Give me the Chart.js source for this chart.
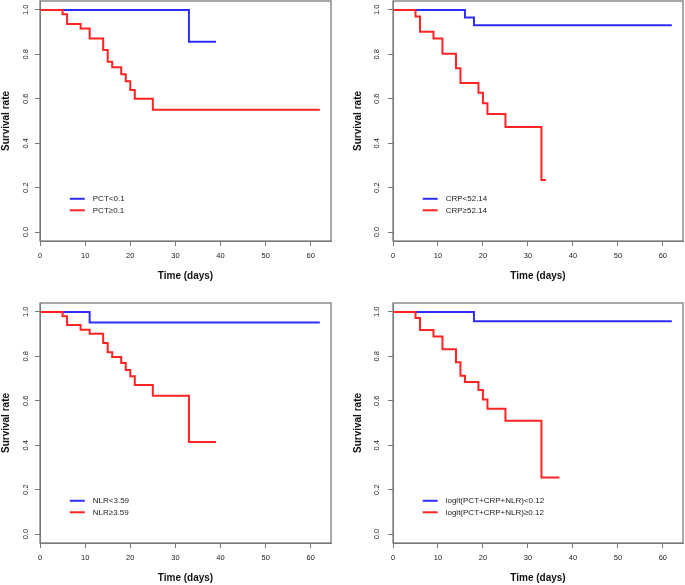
<!DOCTYPE html>
<html>
<head>
<meta charset="utf-8">
<script src="https://cdn.jsdelivr.net/npm/chart.js@4.4.0/dist/chart.umd.min.js"></script>
<style>
  body { margin: 0; background: #fff; }
  #wrap { position: relative; width: 685px; height: 585px; }
  canvas { position: absolute; }
</style>
</head>
<body>
<div id="wrap">
  <canvas id="c1" width="342" height="283" style="left:0;top:0"></canvas>
  <canvas id="c2" width="343" height="283" style="left:342px;top:0"></canvas>
  <canvas id="c3" width="342" height="283" style="left:0;top:302px"></canvas>
  <canvas id="c4" width="343" height="283" style="left:342px;top:302px"></canvas>
</div>
<script>
// tick labels
const xTickValues = [0, 10, 20, 30, 40, 50, 60];
const yTickValues = [0, 0.2, 0.4, 0.6, 0.8, 1.0];

// PCT
const pctLowTime = [0, 33, 39];
const pctLowSurv = [1, 0.857, 0.857];
const pctHighTime = [0, 5, 6, 9, 11, 14, 15, 16, 18, 19, 20, 21, 25, 62];
const pctHighSurv = [1, 0.98, 0.937, 0.916, 0.871, 0.82, 0.767, 0.742, 0.71, 0.679, 0.64, 0.60, 0.551, 0.551];

// CRP
const crpLowTime = [0, 16, 18, 62];
const crpLowSurv = [1, 0.966, 0.931, 0.931];
const crpHighTime = [0, 5, 6, 9, 11, 14, 15, 19, 20, 21, 25, 33, 34];
const crpHighSurv = [1, 0.97, 0.902, 0.871, 0.803, 0.737, 0.671, 0.627, 0.58, 0.532, 0.473, 0.234, 0.234];

// NLR
const nlrLowTime = [0, 11, 62];
const nlrLowSurv = [1, 0.952, 0.952];
const nlrHighTime = [0, 5, 6, 9, 11, 14, 15, 16, 18, 19, 20, 21, 25, 33, 39];
const nlrHighSurv = [1, 0.98, 0.941, 0.92, 0.902, 0.86, 0.818, 0.797, 0.77, 0.739, 0.71, 0.671, 0.623, 0.414, 0.414];

// logit(PCT+CRP+NLR)
const comLowTime = [0, 18, 62];
const comLowSurv = [1, 0.958, 0.958];
const comHighTime = [0, 5, 6, 9, 11, 14, 15, 16, 19, 20, 21, 25, 33, 37];
const comHighSurv = [1, 0.973, 0.919, 0.889, 0.832, 0.773, 0.713, 0.685, 0.649, 0.606, 0.564, 0.51, 0.255, 0.255];

const BLUE = 'rgb(45,45,255)';
const RED = 'rgb(255,35,35)';
const FONT = '"Liberation Sans", Arial, sans-serif';

function pts(t, s) {
  return t.map((v, i) => ({x: v, y: s[i]}));
}

// grey box round the plot area, like R's box()
const boxPlugin = {
  id: 'box',
  afterDraw(chart) {
    const a = chart.chartArea, ctx = chart.ctx;
    ctx.save();
    ctx.strokeStyle = '#7a7a7a';
    ctx.lineWidth = 1.3;
    ctx.strokeRect(a.left, a.top, a.right - a.left, a.bottom - a.top);
    ctx.restore();
  }
};

// R style legend inside the plot (no frame)
const kmLegend = {
  id: 'kmLegend',
  afterDraw(chart, args, opts) {
    const {ctx, scales} = chart;
    const x0 = scales.x.getPixelForValue(opts.x);
    let y0 = scales.y.getPixelForValue(opts.y);
    ctx.save();
    ctx.font = '8px ' + FONT;
    ctx.textBaseline = 'middle';
    chart.data.datasets.forEach(ds => {
      ctx.strokeStyle = ds.borderColor;
      ctx.lineWidth = 2;
      ctx.beginPath();
      ctx.moveTo(x0, y0);
      ctx.lineTo(x0 + 15, y0);
      ctx.stroke();
      ctx.fillStyle = '#222';
      ctx.fillText(ds.label, x0 + 23, y0 + 0.5);
      y0 += 11.5;
    });
    ctx.restore();
  }
};

function noPad(s) {
  s.paddingTop = 0; s.paddingBottom = 0; s.paddingLeft = 0; s.paddingRight = 0;
}

function makeChart(id, lowT, lowS, highT, highS, lowLabel, highLabel, right) {
  const yWidth = right ? 51 : 40;
  new Chart(document.getElementById(id), {
    type: 'line',
    data: {
      datasets: [
        {label: lowLabel, data: pts(lowT, lowS), borderColor: BLUE, order: 1},
        {label: highLabel, data: pts(highT, highS), borderColor: RED, order: 0}
      ]
    },
    options: {
      responsive: false,
      animation: false,
      devicePixelRatio: 1,
      layout: {padding: {left: 0, top: 1, right: right ? 2 : 11, bottom: 0}},
      elements: {
        line: {borderWidth: 2, stepped: 'before', fill: false, tension: 0},
        point: {radius: 0}
      },
      plugins: {
        legend: {display: false},
        tooltip: {enabled: false},
        kmLegend: {x: 6.6, y: 0.15}
      },
      scales: {
        x: {
          type: 'linear',
          min: 0,
          max: 64.48,
          afterBuildTicks: s => { s.ticks = xTickValues.map(v => ({value: v})); },
          afterFit: s => { s.height = 42; noPad(s); },
          grid: {display: true, drawOnChartArea: false, tickLength: 5, color: '#7a7a7a'},
          border: {display: true, color: '#7a7a7a'},
          ticks: {font: {family: FONT, size: 7.5}, color: '#222', padding: 5, maxRotation: 0},
          title: {display: true, text: 'Time (days)', font: {family: FONT, size: 10, weight: 'bold'},
                  color: '#111', padding: {top: 0, bottom: 1}}
        },
        y: {
          type: 'linear',
          min: -0.04,
          max: 1.04,
          afterBuildTicks: s => { s.ticks = yTickValues.map(v => ({value: v})); },
          afterFit: s => { s.width = yWidth; noPad(s); },
          grid: {display: true, drawOnChartArea: false, tickLength: 5, color: '#7a7a7a'},
          border: {display: true, color: '#7a7a7a'},
          ticks: {font: {family: FONT, size: 7.5}, color: '#222', padding: right ? 5.5 : 4,
                  minRotation: 90, maxRotation: 90, crossAlign: 'center',
                  callback: v => v.toFixed(1)},
          title: {display: true, text: 'Survival rate', font: {family: FONT, size: 10, weight: 'bold'},
                  color: '#111', padding: {top: right ? 10 : 0, bottom: 0}}
        }
      }
    },
    plugins: [boxPlugin, kmLegend]
  });
}

makeChart('c1', pctLowTime, pctLowSurv, pctHighTime, pctHighSurv, 'PCT<0.1', 'PCT\u22650.1', false);
makeChart('c2', crpLowTime, crpLowSurv, crpHighTime, crpHighSurv, 'CRP<52.14', 'CRP\u226552.14', true);
makeChart('c3', nlrLowTime, nlrLowSurv, nlrHighTime, nlrHighSurv, 'NLR<3.59', 'NLR\u22653.59', false);
makeChart('c4', comLowTime, comLowSurv, comHighTime, comHighSurv,
  'logit(PCT+CRP+NLR)<0.12', 'logit(PCT+CRP+NLR)\u22650.12', true);
</script>
</body>
</html>
